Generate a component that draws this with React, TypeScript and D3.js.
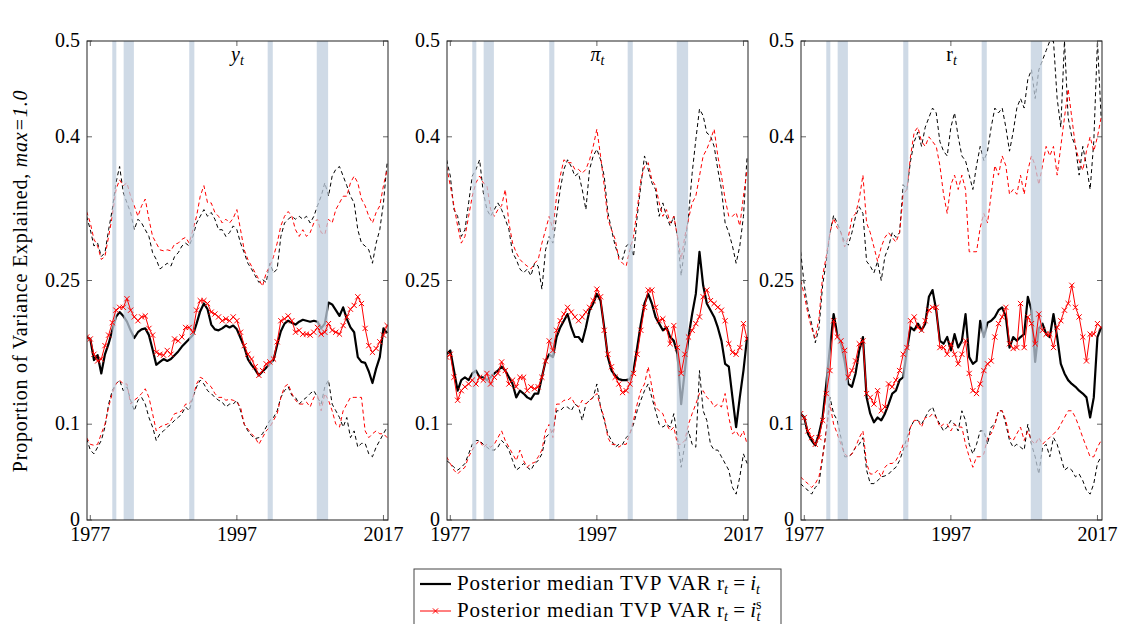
import * as d3 from "d3";

// half-year grid, 1976H2 .. 2017H2
const years = d3.range(83).map((k) => 1976.5 + 0.5 * k);
const recessions: [number, number][] = [
  [1980.0, 1980.55],
  [1981.55, 1982.95],
  [1990.5, 1991.2],
  [2001.2, 2001.9],
  [2007.9, 2009.45],
];
const yTicks = [0, 0.1, 0.25, 0.4, 0.5];
const xTicks = [1977, 1997, 2017];

// ---- y_t ----
const yMedI = [
  0.191, 0.189, 0.167, 0.172, 0.153, 0.173, 0.184, 0.198, 0.212, 0.217,
  0.213, 0.207, 0.198, 0.19, 0.196, 0.199, 0.2, 0.193, 0.178, 0.162,
  0.165, 0.168, 0.166, 0.168, 0.172, 0.176, 0.181, 0.185, 0.189, 0.193,
  0.205, 0.218, 0.226, 0.22, 0.204, 0.199, 0.198, 0.2, 0.203, 0.201,
  0.203, 0.199, 0.19, 0.181, 0.168, 0.162, 0.157, 0.151, 0.155, 0.159,
  0.163, 0.167, 0.183, 0.197, 0.205, 0.208, 0.206, 0.204, 0.207, 0.209,
  0.208, 0.207, 0.208, 0.207, 0.2, 0.205, 0.227, 0.225, 0.219, 0.213,
  0.222, 0.21, 0.201, 0.196, 0.17, 0.165, 0.164, 0.155, 0.143, 0.158,
  0.17, 0.2, 0.195,
];
const yMedIs = [
  0.191, 0.189, 0.173, 0.166, 0.168, 0.182, 0.193, 0.206, 0.219, 0.222,
  0.222, 0.231, 0.219, 0.212, 0.208, 0.212, 0.213, 0.2, 0.193, 0.175,
  0.173, 0.172, 0.177, 0.173, 0.189, 0.187, 0.191, 0.201, 0.201, 0.196,
  0.219, 0.229, 0.229, 0.226, 0.217, 0.215, 0.212, 0.208, 0.21, 0.208,
  0.212, 0.208, 0.196, 0.182, 0.173, 0.168, 0.16, 0.151, 0.156, 0.163,
  0.165, 0.168, 0.186, 0.208, 0.21, 0.213, 0.208, 0.196, 0.198, 0.194,
  0.194, 0.193, 0.196, 0.201, 0.194, 0.196, 0.205, 0.198, 0.196, 0.194,
  0.203, 0.212, 0.22, 0.224, 0.233, 0.226, 0.2, 0.182, 0.175, 0.179,
  0.186, 0.193, 0.203,
];
const yUpI = [
  0.317, 0.303, 0.286, 0.289, 0.275, 0.279, 0.303, 0.324, 0.352, 0.369,
  0.342, 0.331, 0.321, 0.303, 0.314, 0.31, 0.303, 0.296, 0.279, 0.272,
  0.262, 0.265, 0.268, 0.265, 0.275, 0.279, 0.286, 0.289, 0.286, 0.296,
  0.31, 0.317, 0.324, 0.317, 0.321, 0.314, 0.303, 0.303, 0.296, 0.3,
  0.307, 0.303, 0.289, 0.279, 0.268, 0.262, 0.255, 0.248, 0.251, 0.248,
  0.268, 0.258, 0.262, 0.296, 0.31, 0.314, 0.317, 0.314, 0.317, 0.314,
  0.317, 0.31, 0.317, 0.328, 0.338, 0.352, 0.338, 0.359, 0.366, 0.369,
  0.359, 0.349, 0.338, 0.331, 0.303, 0.289, 0.286, 0.282, 0.268, 0.289,
  0.303, 0.331, 0.373,
];
const yUpIs = [
  0.322, 0.31, 0.293, 0.286, 0.272, 0.275, 0.296, 0.317, 0.345, 0.355,
  0.349, 0.352, 0.338, 0.328, 0.317, 0.328, 0.335, 0.314, 0.296, 0.289,
  0.282, 0.281, 0.282, 0.281, 0.288, 0.289, 0.293, 0.295, 0.289, 0.303,
  0.317, 0.338, 0.349, 0.331, 0.331, 0.321, 0.317, 0.31, 0.314, 0.31,
  0.315, 0.324, 0.303, 0.282, 0.272, 0.265, 0.258, 0.251, 0.244, 0.258,
  0.265, 0.275, 0.289, 0.307, 0.317, 0.322, 0.317, 0.303, 0.296, 0.303,
  0.296, 0.3, 0.31, 0.314, 0.3, 0.298, 0.314, 0.31, 0.324, 0.331,
  0.338, 0.338, 0.352, 0.359, 0.352, 0.335, 0.328, 0.317, 0.31, 0.321,
  0.328, 0.349, 0.366,
];
const yLoI = [
  0.085, 0.073, 0.069, 0.076, 0.083, 0.097, 0.121, 0.135, 0.142, 0.146,
  0.135, 0.139, 0.125, 0.114, 0.125, 0.128, 0.121, 0.107, 0.097, 0.083,
  0.09, 0.093, 0.097, 0.1, 0.104, 0.107, 0.111, 0.118, 0.114, 0.128,
  0.139, 0.146, 0.142, 0.135, 0.132, 0.128, 0.125, 0.123, 0.118, 0.121,
  0.121, 0.125, 0.114, 0.1, 0.093, 0.088, 0.085, 0.086, 0.09, 0.097,
  0.104, 0.107, 0.114, 0.128, 0.135, 0.139, 0.13, 0.128, 0.121, 0.125,
  0.128, 0.132, 0.135, 0.128, 0.121, 0.139, 0.146, 0.121, 0.114, 0.107,
  0.097, 0.107, 0.086, 0.093, 0.076, 0.08, 0.08, 0.069, 0.066, 0.076,
  0.083, 0.09, 0.097,
];
const yLoIs = [
  0.086, 0.079, 0.078, 0.079, 0.09, 0.1, 0.118, 0.132, 0.142, 0.146,
  0.142, 0.142, 0.121, 0.125, 0.128, 0.132, 0.137, 0.128, 0.111, 0.093,
  0.097, 0.099, 0.1, 0.104, 0.111, 0.112, 0.114, 0.121, 0.121, 0.128,
  0.142, 0.149, 0.147, 0.142, 0.139, 0.132, 0.128, 0.128, 0.125, 0.126,
  0.125, 0.123, 0.118, 0.1, 0.095, 0.09, 0.086, 0.079, 0.086, 0.093,
  0.097, 0.104, 0.111, 0.128, 0.139, 0.142, 0.132, 0.125, 0.121, 0.121,
  0.123, 0.118, 0.128, 0.13, 0.114, 0.132, 0.125, 0.114, 0.1, 0.097,
  0.114, 0.121, 0.128, 0.128, 0.128, 0.128, 0.093, 0.086, 0.09, 0.093,
  0.09, 0.09, 0.086,
];

// ---- pi_t ----
const piMedI = [
  0.173, 0.177, 0.156, 0.135, 0.146, 0.149, 0.146, 0.153, 0.156, 0.149,
  0.149, 0.146, 0.149, 0.153, 0.156, 0.16, 0.156, 0.149, 0.142, 0.128,
  0.135, 0.132, 0.128, 0.126, 0.132, 0.132, 0.149, 0.166, 0.173, 0.17,
  0.191, 0.201, 0.208, 0.215, 0.201, 0.191, 0.191, 0.186, 0.201, 0.219,
  0.226, 0.236, 0.229, 0.201, 0.17, 0.156, 0.151, 0.147, 0.146, 0.146,
  0.147, 0.156, 0.18, 0.205, 0.226, 0.236, 0.226, 0.212, 0.205, 0.198,
  0.201, 0.191, 0.187, 0.173, 0.121, 0.156, 0.191, 0.215, 0.236, 0.28,
  0.245, 0.226, 0.219, 0.212, 0.201, 0.187, 0.163, 0.16, 0.128, 0.097,
  0.128, 0.156, 0.191,
];
const piMedIs = [
  0.17, 0.173, 0.149, 0.125, 0.135, 0.139, 0.142, 0.146, 0.142, 0.149,
  0.146, 0.153, 0.142, 0.149, 0.153, 0.165, 0.156, 0.142, 0.146, 0.139,
  0.149, 0.149, 0.135, 0.139, 0.137, 0.139, 0.149, 0.166, 0.187, 0.177,
  0.198, 0.208, 0.215, 0.222, 0.217, 0.212, 0.208, 0.212, 0.217, 0.222,
  0.229, 0.241, 0.233, 0.198, 0.173, 0.16, 0.149, 0.142, 0.133, 0.135,
  0.142, 0.153, 0.173, 0.198, 0.222, 0.24, 0.24, 0.222, 0.208, 0.21,
  0.2, 0.184, 0.203, 0.18, 0.153, 0.173, 0.191, 0.198, 0.205, 0.212,
  0.233, 0.24, 0.229, 0.226, 0.222, 0.219, 0.208, 0.184, 0.175, 0.173,
  0.18, 0.205, 0.189,
];
const piUpI = [
  0.376, 0.359, 0.324, 0.317, 0.296, 0.303, 0.331, 0.359, 0.366, 0.376,
  0.342, 0.324, 0.317, 0.324, 0.331, 0.324, 0.314, 0.303, 0.279, 0.272,
  0.262, 0.258, 0.262, 0.255, 0.268, 0.265, 0.241, 0.282, 0.296, 0.289,
  0.317, 0.345, 0.366, 0.376, 0.369, 0.359, 0.362, 0.345, 0.324, 0.366,
  0.38, 0.387, 0.376, 0.359, 0.321, 0.303, 0.286, 0.275, 0.272, 0.286,
  0.289, 0.275, 0.317, 0.349, 0.38, 0.366, 0.352, 0.345, 0.317, 0.331,
  0.317, 0.307, 0.317, 0.296, 0.255, 0.286, 0.317, 0.362, 0.397, 0.429,
  0.422, 0.404, 0.401, 0.39, 0.366, 0.345, 0.31, 0.3, 0.286, 0.268,
  0.286, 0.317, 0.38,
];
const piUpIs = [
  0.369, 0.349, 0.328, 0.307, 0.289, 0.296, 0.317, 0.338, 0.352, 0.359,
  0.352, 0.349, 0.324, 0.317, 0.324, 0.328, 0.345, 0.31, 0.289, 0.279,
  0.272, 0.268, 0.265, 0.262, 0.268, 0.272, 0.289, 0.303, 0.317, 0.303,
  0.338, 0.359, 0.376, 0.373, 0.373, 0.366, 0.366, 0.362, 0.366, 0.376,
  0.39, 0.408, 0.38, 0.349, 0.314, 0.303, 0.293, 0.272, 0.268, 0.265,
  0.282, 0.296, 0.324, 0.355, 0.369, 0.373, 0.355, 0.349, 0.331, 0.317,
  0.324, 0.31, 0.317, 0.296, 0.272, 0.296, 0.314, 0.331, 0.338, 0.359,
  0.38, 0.387, 0.397, 0.408, 0.38, 0.359, 0.335, 0.317, 0.317, 0.321,
  0.307, 0.338, 0.366,
];
const piLoI = [
  0.062, 0.059, 0.055, 0.052, 0.055, 0.059, 0.069, 0.079, 0.083, 0.083,
  0.079, 0.076, 0.073, 0.073, 0.076, 0.083, 0.079, 0.073, 0.062, 0.052,
  0.055, 0.059, 0.055, 0.052, 0.059, 0.062, 0.069, 0.086, 0.09, 0.093,
  0.114, 0.114, 0.118, 0.118, 0.114, 0.121, 0.118, 0.104, 0.121, 0.125,
  0.128, 0.142, 0.118, 0.104, 0.09, 0.083, 0.076, 0.079, 0.079, 0.086,
  0.09, 0.1, 0.114, 0.125, 0.135, 0.142, 0.128, 0.114, 0.1, 0.097,
  0.1, 0.097, 0.111, 0.086, 0.055, 0.079, 0.093, 0.079, 0.076, 0.156,
  0.114, 0.104, 0.079, 0.073, 0.073, 0.066, 0.059, 0.052, 0.034, 0.027,
  0.045, 0.069, 0.059,
];
const piLoIs = [
  0.066, 0.059, 0.052, 0.048, 0.052, 0.055, 0.066, 0.073, 0.079, 0.083,
  0.076, 0.079, 0.076, 0.079, 0.086, 0.093, 0.083, 0.076, 0.069, 0.062,
  0.073, 0.062, 0.055, 0.059, 0.06, 0.066, 0.073, 0.093, 0.1, 0.086,
  0.121, 0.121, 0.125, 0.125, 0.128, 0.121, 0.118, 0.125, 0.121, 0.125,
  0.128, 0.132, 0.118, 0.107, 0.086, 0.079, 0.079, 0.076, 0.079, 0.079,
  0.09, 0.104, 0.121, 0.135, 0.142, 0.16, 0.139, 0.118, 0.114, 0.111,
  0.1, 0.093, 0.097, 0.079, 0.079, 0.083, 0.1, 0.111, 0.121, 0.132,
  0.135, 0.128, 0.125, 0.118, 0.121, 0.118, 0.132, 0.107, 0.09, 0.093,
  0.086, 0.093, 0.079,
];

// ---- r_t ----
const rMedI = [
  0.111, 0.107, 0.09, 0.083, 0.078, 0.09, 0.107, 0.142, 0.18, 0.215,
  0.194, 0.184, 0.166, 0.142, 0.139, 0.153, 0.177, 0.191, 0.128, 0.111,
  0.102, 0.107, 0.104, 0.111, 0.121, 0.132, 0.135, 0.146, 0.149, 0.177,
  0.201, 0.198, 0.205, 0.198, 0.205, 0.233, 0.24, 0.219, 0.187, 0.184,
  0.191, 0.177, 0.194, 0.18, 0.187, 0.215, 0.17, 0.163, 0.166, 0.208,
  0.191, 0.206, 0.208, 0.212, 0.219, 0.222, 0.212, 0.18, 0.191, 0.187,
  0.191, 0.194, 0.233, 0.219, 0.165, 0.2, 0.205, 0.194, 0.191, 0.215,
  0.191, 0.163, 0.153, 0.146, 0.142, 0.139, 0.135, 0.132, 0.128, 0.107,
  0.128, 0.191, 0.201,
];
const rMedIs = [
  0.111, 0.107, 0.093, 0.086, 0.079, 0.086, 0.104, 0.132, 0.156, 0.208,
  0.191, 0.187, 0.177, 0.149, 0.156, 0.166, 0.184, 0.187, 0.132, 0.128,
  0.121, 0.135, 0.114, 0.118, 0.142, 0.139, 0.146, 0.156, 0.173, 0.18,
  0.208, 0.212, 0.201, 0.198, 0.208, 0.219, 0.222, 0.222, 0.18, 0.18,
  0.173, 0.184, 0.173, 0.163, 0.173, 0.187, 0.153, 0.135, 0.132, 0.142,
  0.156, 0.163, 0.166, 0.191, 0.205, 0.212, 0.222, 0.184, 0.179, 0.18,
  0.226, 0.18, 0.212, 0.205, 0.184, 0.215, 0.198, 0.194, 0.194, 0.18,
  0.201, 0.208, 0.219, 0.226, 0.245, 0.222, 0.212, 0.191, 0.166, 0.194,
  0.194, 0.205, 0.201,
];
const rUpI = [
  0.28, 0.245, 0.22, 0.205, 0.185, 0.2, 0.245, 0.27, 0.3, 0.318,
  0.31, 0.3, 0.29, 0.287, 0.3, 0.317, 0.327, 0.32, 0.27, 0.265,
  0.258, 0.27, 0.25, 0.275, 0.285, 0.3, 0.295, 0.3, 0.35, 0.345,
  0.375, 0.395, 0.405, 0.39, 0.41, 0.42, 0.43, 0.425, 0.395, 0.385,
  0.38, 0.41, 0.425, 0.4, 0.38, 0.375, 0.36, 0.345, 0.37, 0.39,
  0.375, 0.385, 0.41, 0.43, 0.425, 0.43, 0.41, 0.385, 0.405, 0.43,
  0.44, 0.43, 0.46, 0.47, 0.44, 0.47, 0.48, 0.49, 0.5, 0.5,
  0.44, 0.41, 0.5, 0.42, 0.4, 0.39, 0.36, 0.39, 0.37, 0.345,
  0.395, 0.5, 0.42,
];
const rUpIs = [
  0.25, 0.235, 0.215, 0.2, 0.19, 0.21, 0.255, 0.275, 0.3, 0.315,
  0.305, 0.3, 0.285, 0.295, 0.315, 0.32, 0.335, 0.36, 0.31, 0.3,
  0.285, 0.27, 0.285, 0.295, 0.3, 0.295, 0.29, 0.3, 0.34, 0.345,
  0.38, 0.405, 0.41, 0.395, 0.39, 0.4, 0.395, 0.39, 0.37, 0.34,
  0.32, 0.35, 0.36, 0.345, 0.36, 0.345, 0.28, 0.28, 0.28, 0.305,
  0.32, 0.31, 0.34, 0.37, 0.36, 0.38, 0.37, 0.34, 0.345, 0.34,
  0.36, 0.34, 0.365, 0.38, 0.37, 0.35, 0.37, 0.39, 0.38, 0.39,
  0.36, 0.39, 0.42, 0.45, 0.42, 0.39, 0.375, 0.365, 0.385, 0.4,
  0.385, 0.4, 0.42,
];
const rLoI = [
  0.038, 0.034, 0.031, 0.027, 0.034, 0.038, 0.066, 0.093, 0.128, 0.111,
  0.104, 0.086, 0.066, 0.066, 0.069, 0.076, 0.079, 0.086, 0.052, 0.038,
  0.038, 0.041, 0.045, 0.046, 0.048, 0.052, 0.055, 0.062, 0.073, 0.086,
  0.097, 0.104, 0.104, 0.1, 0.107, 0.114, 0.118, 0.107, 0.1, 0.093,
  0.097, 0.104, 0.1, 0.093, 0.114, 0.104, 0.079, 0.069, 0.079, 0.093,
  0.093, 0.079, 0.097, 0.1, 0.114, 0.114, 0.1, 0.083, 0.076, 0.079,
  0.076, 0.073, 0.1, 0.079, 0.066, 0.048, 0.076, 0.079, 0.066, 0.086,
  0.079, 0.066, 0.052, 0.055, 0.052, 0.045, 0.048, 0.041, 0.031, 0.027,
  0.038, 0.059, 0.066,
];
const rLoIs = [
  0.045, 0.041, 0.038, 0.034, 0.038, 0.045, 0.066, 0.093, 0.121, 0.1,
  0.09, 0.079, 0.069, 0.066, 0.069, 0.076, 0.086, 0.093, 0.059, 0.048,
  0.048, 0.052, 0.045, 0.055, 0.059, 0.059, 0.062, 0.069, 0.079, 0.076,
  0.097, 0.104, 0.104, 0.097, 0.107, 0.107, 0.111, 0.107, 0.097, 0.1,
  0.1, 0.093, 0.1, 0.097, 0.097, 0.079, 0.066, 0.055, 0.066, 0.066,
  0.069, 0.086, 0.09, 0.1, 0.114, 0.114, 0.104, 0.086, 0.083, 0.09,
  0.097, 0.083, 0.093, 0.083, 0.079, 0.086, 0.079, 0.083, 0.086, 0.09,
  0.093, 0.1, 0.107, 0.114, 0.114, 0.107, 0.097, 0.086, 0.076, 0.066,
  0.066, 0.076, 0.083,
];

const FONT = "Liberation Serif, serif";
const TOP = 41;
const BOTTOM = 520;
const PW = 301;
const RED = "#ff0000";
const BAND = "#bfcedd";
const FS = 20;

type PanelData = {
  medI: number[];
  medIs: number[];
  upI: number[];
  loI: number[];
  upIs: number[];
  loIs: number[];
};

const panels: { left: number; title: string; d: PanelData }[] = [
  { left: 87, title: "y", d: { medI: yMedI, medIs: yMedIs, upI: yUpI, loI: yLoI, upIs: yUpIs, loIs: yLoIs } },
  { left: 447, title: "pi", d: { medI: piMedI, medIs: piMedIs, upI: piUpI, loI: piLoI, upIs: piUpIs, loIs: piLoIs } },
  { left: 801, title: "r", d: { medI: rMedI, medIs: rMedIs, upI: rUpI, loI: rLoI, upIs: rUpIs, loIs: rLoIs } },
];

const Title = ({ kind, x }: { kind: string; x: number }) => {
  const sub = (
    <tspan fontStyle="italic" fontSize={14} dy={4}>
      t
    </tspan>
  );
  if (kind === "r")
    return (
      <text x={x} y={20} textAnchor="middle" fontSize={FS} fontFamily={FONT}>
        r{sub}
      </text>
    );
  return (
    <text x={x} y={20} textAnchor="middle" fontSize={FS} fontFamily={FONT} fontStyle="italic">
      {kind === "pi" ? "π" : "y"}
      {sub}
    </text>
  );
};

const cross = "M-2.6,-2.6L2.6,2.6M-2.6,2.6L2.6,-2.6";

const Panel = ({ left, title, d, idx }: { left: number; title: string; d: PanelData; idx: number }) => {
  const x = d3.scaleLinear().domain([1976.55, 2017.62]).range([0, PW]);
  const y = d3.scaleLinear().domain([0, 0.5]).range([BOTTOM - TOP, 0]);
  const line = d3
    .line<number>()
    .x((_, i) => x(years[i]))
    .y((v) => y(v));
  const h = BOTTOM - TOP;
  const clip = `clip${idx}`;
  return (
    <g transform={`translate(${left},${TOP})`}>
      <defs>
        <clipPath id={clip}>
          <rect x={0} y={0} width={PW} height={h} />
        </clipPath>
      </defs>
      <g clipPath={`url(#${clip})`}>
        {[d.upI, d.loI].map((s, i) => (
          <path key={"b" + i} d={line(s) || ""} fill="none" stroke="#000" strokeWidth={1} strokeDasharray="4,3" />
        ))}
        {[d.upIs, d.loIs].map((s, i) => (
          <path key={"r" + i} d={line(s) || ""} fill="none" stroke={RED} strokeWidth={1} strokeDasharray="4,3" />
        ))}
        <path d={line(d.medI) || ""} fill="none" stroke="#000" strokeWidth={2.2} strokeLinejoin="round" />
        {recessions.map(([a, b], i) => (
          <rect key={i} x={x(a)} y={0} width={x(b) - x(a)} height={h} fill={BAND} opacity={0.75} />
        ))}
        <path d={line(d.medIs) || ""} fill="none" stroke={RED} strokeWidth={1} />
        {d.medIs.map((v, i) => (
          <path key={i} transform={`translate(${x(years[i])},${y(v)})`} d={cross} stroke={RED} strokeWidth={1} />
        ))}
      </g>
      {yTicks.map((t) => (
        <g key={"yt" + t}>
          <line x1={0} x2={5} y1={y(t)} y2={y(t)} stroke="#666" />
          <line x1={PW - 5} x2={PW} y1={y(t)} y2={y(t)} stroke="#666" />
          <text x={-7} y={y(t)} dy="0.3em" textAnchor="end" fontSize={FS} fontFamily={FONT}>
            {t}
          </text>
        </g>
      ))}
      {xTicks.map((t) => (
        <g key={"xt" + t}>
          <line x1={x(t)} x2={x(t)} y1={h} y2={h - 5} stroke="#666" />
          <line x1={x(t)} x2={x(t)} y1={0} y2={5} stroke="#666" />
          <text x={x(t)} y={h + 21} textAnchor="middle" fontSize={FS} fontFamily={FONT}>
            {t}
          </text>
        </g>
      ))}
      <rect x={0} y={0} width={PW} height={h} fill="none" stroke="#222" strokeWidth={1} />
      <Title kind={title} x={PW / 2} />
    </g>
  );
};

export default function App() {
  return (
    <svg
      width={1124}
      height={624}
      style={{ position: "absolute", left: 0, top: 0, display: "block", background: "#fff" }}
    >
      {panels.map((p, i) => (
        <Panel key={i} idx={i} left={p.left} title={p.title} d={p.d} />
      ))}
      <text
        transform="translate(27,281) rotate(-90)"
        textAnchor="middle"
        fontSize={FS}
        fontFamily={FONT}
        letterSpacing={0.8}
      >
        Proportion of Variance Explained, <tspan fontStyle="italic">max=1.0</tspan>
      </text>
      <g fontFamily={FONT} fontSize={21}>
        <rect x={414} y={569} width={367} height={70} fill="#fff" stroke="#444" />
        <line x1={420} x2={451} y1={584} y2={584} stroke="#000" strokeWidth={2.2} />
        <text x={457} y={590}>
          <tspan letterSpacing={0.9}>Posterior median TVP VAR</tspan> r
          <tspan fontStyle="italic" fontSize={14} dy={4}>t</tspan>
          <tspan dy={-4}> = </tspan>
          <tspan fontStyle="italic">i</tspan>
          <tspan fontStyle="italic" fontSize={14} dy={4}>t</tspan>
        </text>
        <line x1={420} x2={451} y1={611} y2={611} stroke={RED} strokeWidth={1} />
        <path transform="translate(435.5,611)" d={cross} stroke={RED} />
        <text x={457} y={617}>
          <tspan letterSpacing={0.9}>Posterior median TVP VAR</tspan> r
          <tspan fontStyle="italic" fontSize={14} dy={4}>t</tspan>
          <tspan dy={-4}> = </tspan>
          <tspan fontStyle="italic">i</tspan>
          <tspan fontSize={14} dy={-8}>s</tspan>
          <tspan fontStyle="italic" fontSize={14} dx={-5} dy={12}>t</tspan>
        </text>
      </g>
    </svg>
  );
}
